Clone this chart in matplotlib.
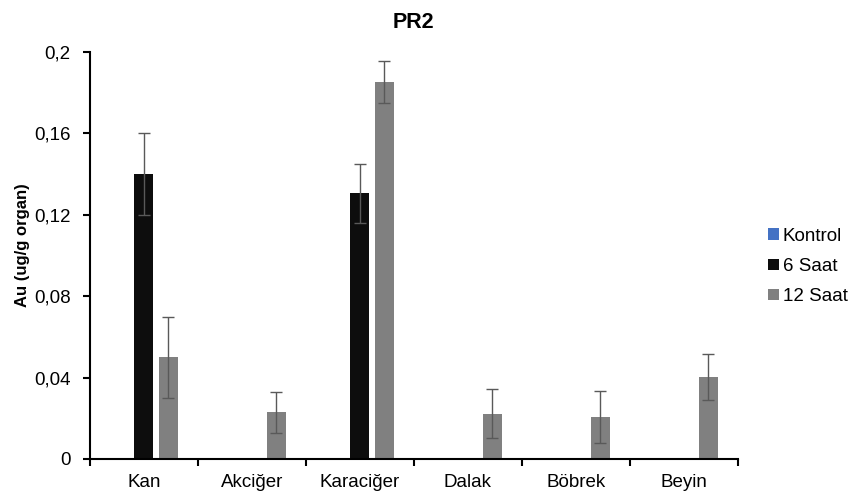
import numpy as np
import matplotlib.pyplot as plt
from matplotlib.ticker import FixedLocator, FuncFormatter

plt.rcParams['font.family'] = ['Liberation Sans', 'DejaVu Sans']

organs = ["Kan", "Akciğer", "Karaciğer", "Dalak", "Böbrek", "Beyin"]
series_names = ["Kontrol", "6 Saat", "12 Saat"]

kontrol = [0, 0, 0, 0, 0, 0]
saat6 = [0.14, 0, 0.1305, 0, 0, 0]
saat12 = [0.05, 0.023, 0.1852, 0.0223, 0.0205, 0.0405]

kontrol_err = [0, 0, 0, 0, 0, 0]
saat6_err = [0.02, 0, 0.0143, 0, 0, 0]
saat12_err = [0.02, 0.01, 0.0103, 0.012, 0.0128, 0.0113]

colors = ["#4472C4", "#0D0D0D", "#808080"]

fig = plt.figure(figsize=(8.5, 4.96), dpi=100)
ax = fig.add_axes([0.1059, 0.0746, 0.762, 0.8206])

x = np.arange(len(organs))
width = 0.176
step = 0.227

values = [kontrol, saat6, saat12]
errs = [kontrol_err, saat6_err, saat12_err]

for ii, (vals, err, col, name) in enumerate(zip(values, errs, colors, series_names)):
    pos = x + (ii - 1) * step
    ax.bar(pos, vals, width, color=col, label=name, zorder=2)
    mask = np.array(vals) > 0
    ax.errorbar(pos[mask], np.array(vals)[mask], yerr=np.array(err)[mask],
                fmt="none", ecolor="#595959", elinewidth=1.0, capsize=4,
                capthick=1.0, zorder=3)

ax.set_xlim(-0.5, len(organs) - 0.5)
ax.set_ylim(0, 0.2)

yticks = [0, 0.04, 0.08, 0.12, 0.16, 0.2]
ax.set_yticks(yticks)
ax.yaxis.set_major_formatter(FuncFormatter(
    lambda v, p: "0" if v == 0 else f"{v:g}".replace(".", ",")))

ax.set_xticks(x)
ax.set_xticklabels(organs)
ax.tick_params(axis="x", which="major", length=0, pad=11, labelsize=13.5)
ax.xaxis.set_minor_locator(FixedLocator(np.arange(-0.5, len(organs), 1.0)))
ax.tick_params(axis="x", which="minor", length=5, width=1.5, direction="out")
ax.tick_params(axis="y", length=5, width=1.5, direction="out", labelsize=13.5, pad=9)

for side in ["top", "right"]:
    ax.spines[side].set_visible(False)
for side in ["left", "bottom"]:
    ax.spines[side].set_linewidth(1.5)

ax.set_ylabel("Au (ug/g organ)", fontsize=12, fontweight="bold")
ax.yaxis.set_label_coords(-0.093, 0.526)
ax.set_title("PR2", fontsize=15.5, fontweight="bold", pad=17)

fig.legend(loc="center left", bbox_to_anchor=(0.904, 0.463), frameon=False,
           fontsize=13.5, handlelength=0.55, handleheight=0.55, handletextpad=0.22,
           labelspacing=0.7, borderaxespad=0, borderpad=0)

fig.savefig("out.png", dpi=100)
